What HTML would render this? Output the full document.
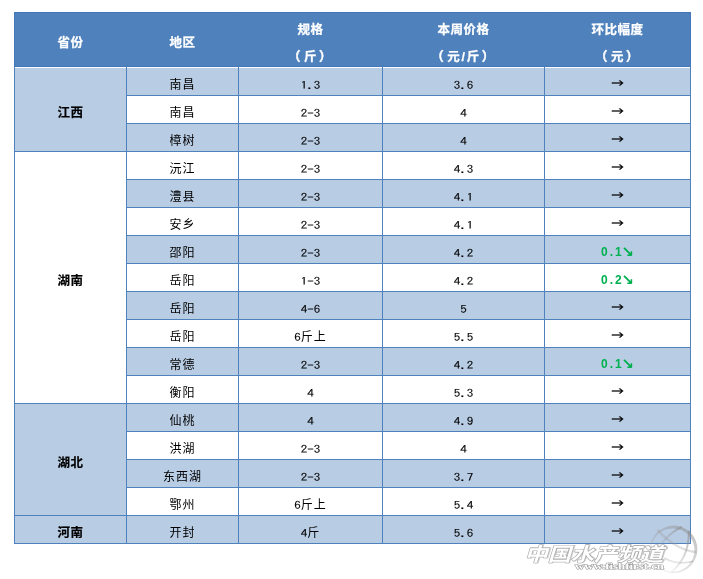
<!DOCTYPE html>
<html lang="zh-CN">
<head>
<meta charset="utf-8">
<title>价格表</title>
<style>
html,body{margin:0;padding:0;background:#fff;}
body{width:703px;height:579px;position:relative;overflow:hidden;font-family:"Liberation Sans","Noto Sans CJK SC",sans-serif;}
table{position:absolute;left:14px;top:12px;width:677px;border-collapse:separate;border-spacing:0;table-layout:fixed;}
th,td{padding:0;margin:0;box-sizing:border-box;text-align:center;white-space:nowrap;overflow:hidden;}
th{height:55px;background:#4f81bd;color:#fff;font-weight:bold;font-size:12.5px;letter-spacing:0.5px;-webkit-text-stroke:0.25px #fff;line-height:18px;padding-top:8px;vertical-align:top;border-top:1px solid #4377b9;border-bottom:1px solid #4377b9;border-right:1px solid #4f81bd;}
th.one{padding-top:21px;}
th span{display:block;margin-top:9px;}
th:first-child{border-left:1px solid #4377b9;}
th:last-child{border-right:1px solid #4377b9;}
th i{font-style:normal;position:relative;-webkit-text-stroke:0.4px #fff;}
th i.l{left:-3px;}
th i.r{left:2px;}
th i.s{display:inline-block;width:6.5px;text-align:center;-webkit-text-stroke:0.25px #fff;position:static;}
td{height:28px;border-right:1px solid #4f81bd;border-bottom:1px solid #4f81bd;font-size:12px;letter-spacing:1px;line-height:14px;color:#000;vertical-align:top;padding-top:10px;}
tr.first td{height:29px;padding-top:11px;}
tr.first td.n{padding-top:11.5px;}
tr.first td.ar{padding-top:10px;}
tr.first td.p{padding-top:7px;}
tr.s td{background:#b8cce4;}
tr.first td,tr.first td.ps{background:linear-gradient(to bottom,#fff 1px,#b8cce4 1px);}
tr.s td.pw{background:#fff;}
td.p{border-left:1px solid #4f81bd;font-weight:bold;font-size:12.5px;letter-spacing:0.5px;-webkit-text-stroke:0.2px #000;vertical-align:middle;padding-top:6px;}
td.ps{background:#b8cce4;}
td.n{padding-top:10.5px;}
td.ar,td.g{padding-top:9px;}
td.n b{display:inline-block;font-weight:normal;font-family:"IPAGothic","Liberation Mono",monospace;font-size:13px;letter-spacing:0;line-height:14px;transform:scaleY(0.82);-webkit-text-stroke:0.15px #000;}
td.n b u{text-decoration:none;font-family:"Liberation Sans","Noto Sans CJK SC",sans-serif;font-size:12px;letter-spacing:1px;display:inline-block;transform:scaleY(1.22);position:relative;top:-1px;-webkit-text-stroke:0;}
td.ar{font-family:"IPAGothic","DejaVu Sans",sans-serif;font-size:13px;letter-spacing:0;-webkit-text-stroke:0.3px #000;}
td.g{color:#00b050;font-weight:bold;font-family:"Liberation Sans",sans-serif;font-size:12px;letter-spacing:0.4px;}
td.g span{display:inline-block;width:7px;text-align:center;letter-spacing:0;}
td.g em{font-style:normal;font-family:"DejaVu Sans","Liberation Sans",sans-serif;font-size:15px;line-height:14px;letter-spacing:0;display:inline-block;width:13px;text-align:center;margin-left:-1px;vertical-align:top;}
svg{position:absolute;left:503px;top:509px;}
</style>
</head>
<body>
<table>
<colgroup><col style="width:113px"><col style="width:112px"><col style="width:144px"><col style="width:162px"><col style="width:146px"></colgroup>
<thead>
<tr><th class="one">省份</th><th class="one">地区</th><th>规格<span><i class="l">（</i>斤<i class="r">）</i></span></th><th>本周价格<span><i class="l">（</i>元<i class="s">/</i>斤<i class="r">）</i></span></th><th>环比幅度<span><i class="l">（</i>元<i class="r">）</i></span></th></tr>
</thead>
<tbody>
<tr class="first s"><td class="p ps" rowspan="3">江西</td><td>南昌</td><td class="n"><b>1.3</b></td><td class="n"><b>3.6</b></td><td class="ar">→</td></tr>
<tr><td>南昌</td><td class="n"><b>2-3</b></td><td class="n"><b>4</b></td><td class="ar">→</td></tr>
<tr class="s"><td>樟树</td><td class="n"><b>2-3</b></td><td class="n"><b>4</b></td><td class="ar">→</td></tr>
<tr><td class="p" rowspan="9">湖南</td><td>沅江</td><td class="n"><b>2-3</b></td><td class="n"><b>4.3</b></td><td class="ar">→</td></tr>
<tr class="s"><td>澧县</td><td class="n"><b>2-3</b></td><td class="n"><b>4.1</b></td><td class="ar">→</td></tr>
<tr><td>安乡</td><td class="n"><b>2-3</b></td><td class="n"><b>4.1</b></td><td class="ar">→</td></tr>
<tr class="s"><td>邵阳</td><td class="n"><b>2-3</b></td><td class="n"><b>4.2</b></td><td class="g">0<span>.</span>1<em>↘</em></td></tr>
<tr><td>岳阳</td><td class="n"><b>1-3</b></td><td class="n"><b>4.2</b></td><td class="g">0<span>.</span>2<em>↘</em></td></tr>
<tr class="s"><td>岳阳</td><td class="n"><b>4-6</b></td><td class="n"><b>5</b></td><td class="ar">→</td></tr>
<tr><td>岳阳</td><td class="n"><b>6<u>斤上</u></b></td><td class="n"><b>5.5</b></td><td class="ar">→</td></tr>
<tr class="s"><td>常德</td><td class="n"><b>2-3</b></td><td class="n"><b>4.2</b></td><td class="g">0<span>.</span>1<em>↘</em></td></tr>
<tr><td>衡阳</td><td class="n"><b>4</b></td><td class="n"><b>5.3</b></td><td class="ar">→</td></tr>
<tr class="s"><td class="p ps" rowspan="4">湖北</td><td>仙桃</td><td class="n"><b>4</b></td><td class="n"><b>4.9</b></td><td class="ar">→</td></tr>
<tr><td>洪湖</td><td class="n"><b>2-3</b></td><td class="n"><b>4</b></td><td class="ar">→</td></tr>
<tr class="s"><td>东西湖</td><td class="n"><b>2-3</b></td><td class="n"><b>3.7</b></td><td class="ar">→</td></tr>
<tr><td>鄂州</td><td class="n"><b>6<u>斤上</u></b></td><td class="n"><b>5.4</b></td><td class="ar">→</td></tr>
<tr class="s"><td class="p ps">河南</td><td>开封</td><td class="n"><b>4<u>斤</u></b></td><td class="n"><b>5.6</b></td><td class="ar">→</td></tr>
</tbody>
</table>
<svg width="200" height="70" viewBox="503 509 200 70">
<defs>
<linearGradient id="gg" x1="0" y1="1" x2="1" y2="0">
<stop offset="0" stop-color="#9a9a9a" stop-opacity="0.1"/>
<stop offset="0.5" stop-color="#9a9a9a" stop-opacity="0.35"/>
<stop offset="1" stop-color="#8c8c8c" stop-opacity="0.6"/>
</linearGradient>
</defs>
<path fill="url(#gg)" fill-rule="evenodd" d="M650 549.3a23.7 23.7 0 1 0 47.4 0a23.7 23.7 0 1 0 -47.4 0z M651.1 550.1a21.7 21.7 0 1 0 43.4 0a21.7 21.7 0 1 0 -43.4 0z"/>
<g fill="none" stroke="url(#gg)" stroke-linecap="round">
<path d="M658.2 530.6 Q667 540.5 677.2 546 T695.5 552" stroke-width="2.4"/>
<path d="M681.3 527.2 Q672 532 666 538.5 T655 548" stroke-width="1.9"/>
<path d="M689 531.5 Q688.5 547 684 556 T672.5 571" stroke-width="2"/>
<path d="M665 558.5 Q678 565.5 692.5 561.5" stroke-width="1.8"/>
</g>
<g font-family="'Liberation Sans','Noto Sans CJK SC',sans-serif" font-weight="700" font-style="italic" font-size="19">
<text x="525.5" y="561.4" textLength="139" lengthAdjust="spacingAndGlyphs" fill="#d4d4d4" stroke="#d4d4d4" stroke-width="1.2">中国水产频道</text>
<text x="524.5" y="560.6" textLength="139" lengthAdjust="spacingAndGlyphs" fill="#fff" stroke="#a6a6a6" stroke-width="1.1" paint-order="stroke" stroke-linejoin="round">中国水产频道</text>
</g>
<text x="575" y="569.3" textLength="89" lengthAdjust="spacingAndGlyphs" font-family="'Liberation Serif',serif" font-weight="bold" font-size="8.5" fill="#fff" stroke="#999" stroke-width="0.9" paint-order="stroke">www.fishfirst.cn</text>
</svg>
</body>
</html>
